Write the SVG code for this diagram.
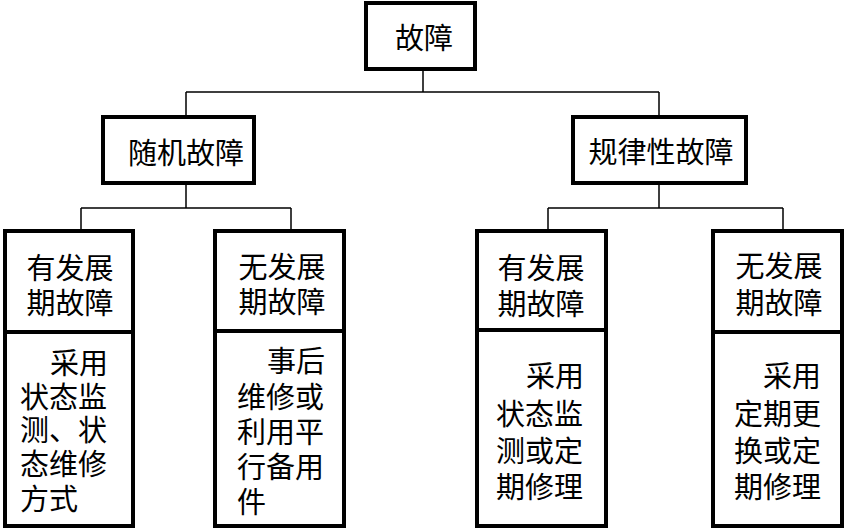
<svg xmlns="http://www.w3.org/2000/svg" width="845" height="529" viewBox="0 0 845 529">
<style>
.box{fill:#fff;stroke:#000;stroke-width:4}
.div{stroke:#000;stroke-width:4}
.con{fill:none;stroke:#000;stroke-width:1.5}
text{font-family:"Liberation Serif","Noto Sans CJK SC","Noto Sans CJK TC",serif;font-size:29px;fill:#000;dominant-baseline:central}
.c{text-anchor:middle}
</style>
<rect width="845" height="529" fill="#fff"/>
<g id="connectors">
<path class="con" d="M423 71V92M186 92H659M186 92V115M659 92V115"/>
<path class="con" d="M186 185V208M81 208H291M81 208V229M291 208V229"/>
<path class="con" d="M659 185V208M548 208H783M548 208V229M783 208V229"/>
</g>
<g id="root">
<rect class="box" x="366" y="3" width="109" height="66"/>
<text class="c" x="424" y="39">故障</text>
</g>
<g id="random">
<rect class="box" x="103" y="117" width="151" height="66"/>
<text class="c" x="186" y="154">随机故障</text>
</g>
<g id="regular">
<rect class="box" x="573" y="117" width="173" height="66"/>
<text class="c" x="661" y="153">规律性故障</text>
</g>
<g id="random-dev">
<rect class="box" x="5" y="231" width="128" height="295"/>
<line class="div" x1="5" y1="332" x2="133" y2="332"/>
<text class="c"><tspan x="70" y="269">有发展</tspan><tspan x="70" y="304">期故障</tspan></text>
<text><tspan x="50" y="364">采用</tspan><tspan x="20" y="398">状态监</tspan><tspan x="20" y="431">测、状</tspan><tspan x="20" y="465">态维修</tspan><tspan x="20" y="500">方式</tspan></text>
</g>
<g id="random-nodev">
<rect class="box" x="215" y="231" width="129" height="295"/>
<line class="div" x1="215" y1="331" x2="344" y2="331"/>
<text class="c"><tspan x="282" y="268">无发展</tspan><tspan x="282" y="303">期故障</tspan></text>
<text><tspan x="267" y="362">事后</tspan><tspan x="237" y="398">维修或</tspan><tspan x="237" y="433">利用平</tspan><tspan x="237" y="468">行备用</tspan><tspan x="237" y="503">件</tspan></text>
</g>
<g id="regular-dev">
<rect class="box" x="477" y="231" width="129" height="295"/>
<line class="div" x1="477" y1="330" x2="606" y2="330"/>
<text class="c"><tspan x="541" y="269">有发展</tspan><tspan x="541" y="305">期故障</tspan></text>
<text><tspan x="526" y="377">采用</tspan><tspan x="496" y="415">状态监</tspan><tspan x="496" y="452">测或定</tspan><tspan x="496" y="488">期修理</tspan></text>
</g>
<g id="regular-nodev">
<rect class="box" x="713" y="231" width="129" height="295"/>
<line class="div" x1="713" y1="332" x2="842" y2="332"/>
<text class="c"><tspan x="779" y="267">无发展</tspan><tspan x="779" y="304">期故障</tspan></text>
<text><tspan x="763" y="377">采用</tspan><tspan x="734" y="415">定期更</tspan><tspan x="734" y="452">换或定</tspan><tspan x="734" y="488">期修理</tspan></text>
</g>
</svg>
